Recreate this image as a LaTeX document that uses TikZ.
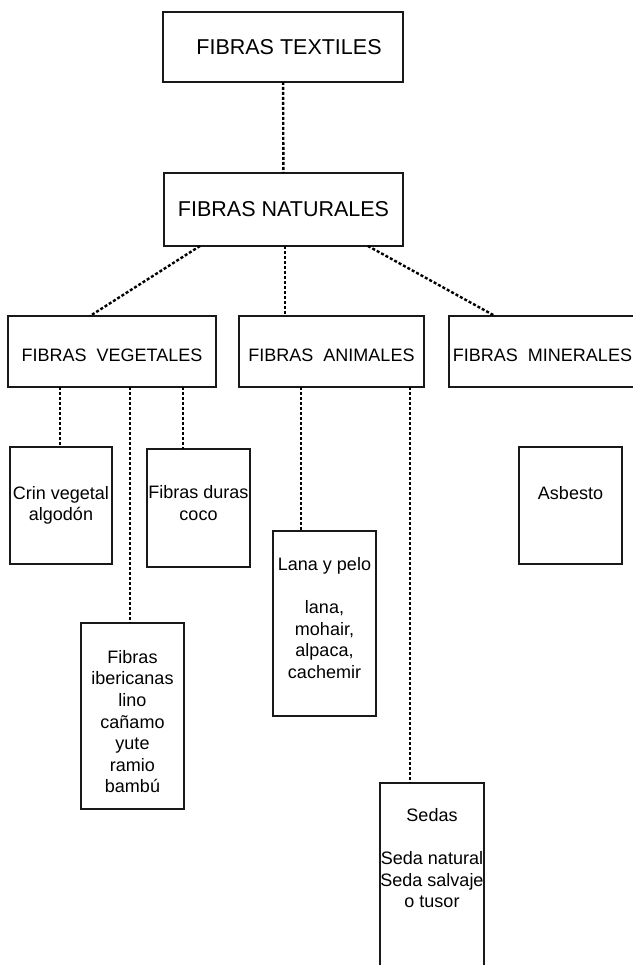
\documentclass[tikz,border=0pt]{standalone}
\usepackage{fontspec}
\setmainfont{Liberation Sans}
\usepackage{tikz}
\usetikzlibrary{positioning}

\begin{document}
\begin{tikzpicture}[x=1pt,y=-1pt,
    box/.style={draw=black!90,line width=1.3pt,inner sep=0pt,outer sep=0pt,align=center,
      font=\fontsize{18}{21.6}\selectfont},
    bigbox/.style={box,font=\fontsize{21.5}{25.8}\selectfont},
    rowbox/.style={box,minimum height=71pt,text height=19pt,text depth=0pt},
    inside/.style={anchor=north,align=center,inner sep=0pt,
      font=\fontsize{18}{21.6}\selectfont},
    link/.style={line width=2.4pt,dash pattern=on 3pt off 2pt}]
    \useasboundingbox (0,0) rectangle (632,965);

    \path
    (283,47) node[bigbox,minimum width=240pt,minimum height=70pt] (textiles) {\hspace*{12pt}FIBRAS TEXTILES}
    (283.5,209.5) node[bigbox,minimum width=239pt,minimum height=73pt] (naturales) {FIBRAS NATURALES}
    ;

    \path
    (112,351.5) node[rowbox,minimum width=208pt] (vegetales) {FIBRAS~~VEGETALES}
    (331.5,351.5) node[rowbox,minimum width=185pt] (animales) {FIBRAS~~ANIMALES}
    (542.5,351.5) node[rowbox,minimum width=187pt] (minerales) {FIBRAS~~MINERALES}
    ;

    \path
    (61,505.5) node[box,minimum width=102pt,minimum height=117pt] (crin) {Crin vegetal\\algodón}
    (198.5,508) node[box,minimum width=103pt,minimum height=118pt,
      label={[inside,yshift=-36.5pt]north:Fibras duras\\coco}] (duras) {}
    (132.5,716) node[box,minimum width=103pt,minimum height=186pt,
      label={[inside,yshift=-27pt]north:Fibras\\ibericanas\\lino\\cañamo\\yute\\ramio\\bambú}] (iber) {}
    ;

    \path
    (324.5,623.5) node[box,minimum width=103pt,minimum height=185pt,
      label={[inside,yshift=-26pt]north:Lana y pelo\\[21.6pt]lana,\\mohair,\\alpaca,\\cachemir}] (lana) {}
    (432,889) node[box,minimum width=104pt,minimum height=212pt,
      label={[inside,yshift=-25pt]north:Sedas\\[21.6pt]Seda natural\\Seda salvaje\\o tusor}] (sedas) {}
    (570.5,505.5) node[box,minimum width=103pt,minimum height=117pt,
      label={[inside,yshift=-39.5pt]north:Asbesto}] (asbesto) {}
    ;

    \draw[link] (textiles) -- (naturales);
    \draw[link] ([xshift=36pt]naturales.south west) -- ([xshift=82pt]vegetales.north west);
    \draw[link] ([xshift=1.5pt]naturales.south) -- ([xshift=46pt]animales.north west);
    \draw[link] ([xshift=-35pt]naturales.south east) -- ([xshift=46pt]minerales.north west);

    \draw[link] ([xshift=52pt]vegetales.south west) -- ([xshift=50pt]crin.north west);
    \draw[link] ([xshift=122pt]vegetales.south west) -- ([xshift=49pt]iber.north west);
    \draw[link] ([xshift=175pt]vegetales.south west) -- ([xshift=36pt]duras.north west);
    \draw[link] ([xshift=62pt]animales.south west) -- ([xshift=28pt]lana.north west);
    \draw[link] ([xshift=171pt]animales.south west) -- ([xshift=30pt]sedas.north west);
\end{tikzpicture}
\end{document}
